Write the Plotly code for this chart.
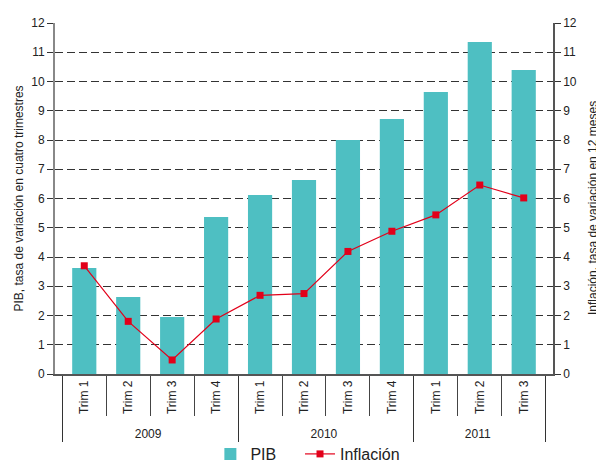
import plotly.graph_objects as go

years = ["2009"] * 4 + ["2010"] * 4 + ["2011"] * 3
trims = ["Trim 1", "Trim 2", "Trim 3", "Trim 4",
         "Trim 1", "Trim 2", "Trim 3", "Trim 4",
         "Trim 1", "Trim 2", "Trim 3"]
pib = [3.62, 2.63, 1.95, 5.37, 6.12, 6.63, 8.0, 8.72, 9.64, 11.35, 10.39]
inflacion = [3.70, 1.80, 0.48, 1.88, 2.69, 2.75, 4.19, 4.88, 5.44, 6.46, 6.02]
y_ticks = list(range(0, 13))
left_title = "PIB, tasa de variación en cuatro trimestres"
right_title = "Inflación, tasa de variación en 12 meses"

FONT = "Liberation Sans, Arial, sans-serif"

fig = go.Figure()
fig.add_trace(go.Bar(
    x=[years, trims], y=pib, name="PIB", legend="legend",
    marker=dict(color="#4EBFC2", line=dict(width=0)),
))
fig.add_trace(go.Scatter(
    x=[years, trims], y=inflacion, name="Inflación", yaxis="y2",
    legend="legend2",
    mode="lines+markers",
    line=dict(color="#E2001A", width=1.2),
    marker=dict(symbol="square", size=7, color="#E2001A"),
))

legend_common = dict(orientation="h", xanchor="left",
                     yref="container", y=0.0, yanchor="bottom",
                     font=dict(size=16, color="#222222"),
                     bgcolor="rgba(0,0,0,0)")

fig.update_layout(
    width=596, height=471,
    margin=dict(l=55, r=43, t=23, b=97),
    paper_bgcolor="white", plot_bgcolor="white",
    font=dict(family=FONT, size=12, color="#222222"),
    bargap=0.45,
    showlegend=True,
    legend=dict(x=0.312, **legend_common),
    legend2=dict(x=0.492, **legend_common),
    xaxis=dict(
        type="multicategory",
        tickangle=-90,
        ticks="outside", tickson="boundaries", ticklen=40, tickcolor="#444444",
        showline=True, linecolor="#555555", linewidth=1.5,
        showdividers=True, dividercolor="#333333", dividerwidth=1.2,
        tickfont=dict(size=12, color="#222222"),
        automargin=False,
    ),
    yaxis=dict(
        range=[0, 12], tickvals=y_ticks, ticks="outside", ticklen=6,
        tickcolor="#333333",
        showline=True, linecolor="#888888", linewidth=2,
        showgrid=True, gridcolor="#333333", griddash="8px,4px", gridwidth=1,
        zeroline=False,
        tickfont=dict(size=12),
        automargin=False,
    ),
    yaxis2=dict(
        range=[0, 12], tickvals=y_ticks, overlaying="y", side="right",
        ticks="outside", ticklen=6, tickcolor="#333333",
        showline=True, linecolor="#555555", linewidth=1.5,
        showgrid=False, zeroline=False,
        tickfont=dict(size=12),
        automargin=False,
    ),
    annotations=[
        dict(text=left_title, textangle=-90, xref="paper", yref="paper",
             x=0, y=0.5, xshift=-37, xanchor="center", yanchor="middle",
             showarrow=False, font=dict(size=12, color="#222222")),
        dict(text=right_title, textangle=-90, xref="paper", yref="paper",
             x=1, y=0.473, xshift=40, xanchor="center", yanchor="middle",
             showarrow=False, font=dict(size=12, color="#222222")),
    ],
)

fig.write_html(
    "out.html",
    config={"displayModeBar": False},
    post_script="document.body.style.margin='0';document.body.style.overflow='hidden';",
)
